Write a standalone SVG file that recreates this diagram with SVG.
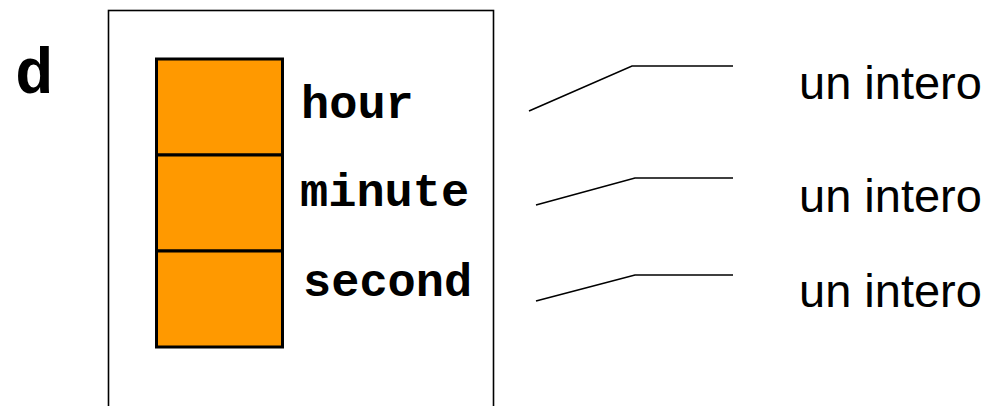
<svg xmlns="http://www.w3.org/2000/svg" width="990" height="406" viewBox="0 0 990 406">
<style>
.mono{font-family:"Liberation Mono","Courier New",monospace;font-weight:bold;fill:#000}
.lbl{font-family:"Liberation Sans",Arial,sans-serif;font-size:47px;fill:#000}
.cell{fill:#FF9900;stroke:#000;stroke-width:3}
.conn{fill:none;stroke:#000;stroke-width:1.6}
</style>
<rect width="990" height="406" fill="#fff"/>
<g id="var-d">
<text class="mono" x="15" y="93" font-size="64">d</text>
</g>
<g id="struct-box">
<rect x="108.5" y="10.5" width="385" height="420" fill="none" stroke="#000" stroke-width="1.6"/>
</g>
<g id="field-hour">
<rect class="cell" x="156.5" y="59" width="126" height="96"/>
<text class="mono" x="301" y="118" font-size="47">hour</text>
</g>
<g id="field-minute">
<rect class="cell" x="156.5" y="155" width="126" height="96"/>
<text class="mono" x="300" y="206" font-size="47">minute</text>
</g>
<g id="field-second">
<rect class="cell" x="156.5" y="251" width="126" height="96"/>
<text class="mono" x="303" y="296" font-size="47">second</text>
</g>
<g id="desc1"><text class="lbl" x="799" y="99">un intero</text></g>
<g id="desc2"><text class="lbl" x="799" y="212">un intero</text></g>
<g id="desc3"><text class="lbl" x="799" y="307">un intero</text></g>
<g id="connectors">
<polyline class="conn" points="529,111 632,66 733,66"/>
<polyline class="conn" points="536,205 635,178 733,178"/>
<polyline class="conn" points="536,301 635,275 733,275"/>
</g>
</svg>
